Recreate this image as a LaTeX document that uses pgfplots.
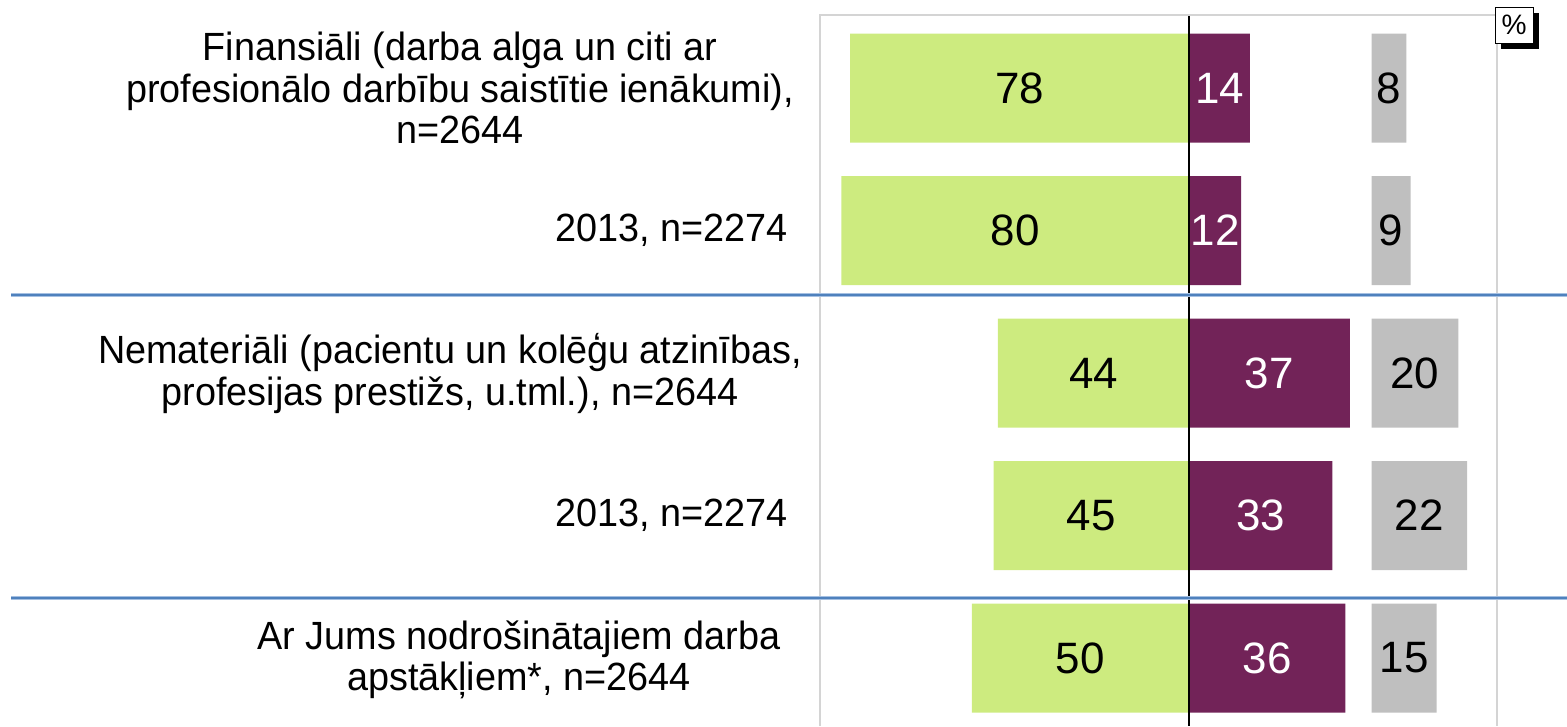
\documentclass[border=0pt]{standalone}
\usepackage{fontspec}
\setmainfont{Liberation Sans}
\newfontfamily\labfamily[FakeStretch=0.96]{Liberation Sans}
\usepackage{pgfplots}
\usepackage{pgfplotstable}
\pgfplotsset{compat=1.18}
\definecolor{cgreen}{RGB}{205,235,127}
\definecolor{cpurple}{RGB}{114,35,88}
\definecolor{cgrey}{RGB}{191,191,191}
\definecolor{cframe}{RGB}{212,212,212}
\definecolor{cblue}{RGB}{79,129,189}
\definecolor{cbluelight}{RGB}{165,192,226}
\newcommand{\labfont}{\labfamily\fontsize{11.2}{11.8}\selectfont}
\newcommand{\numfont}{\fontsize{12.5}{13}\selectfont}

\pgfplotstableread{
row green purple grey off
0 78 14 8 42
1 80 12 9 42
2 44 37 20 42
3 45 33 22 42
4 50 36 15 42
}\data

\begin{document}
\begin{tikzpicture}
\useasboundingbox (0,0) rectangle (156.7mm,72.6mm);
\pgfplotsset{base/.style={scale only axis, width=67.7mm, height=71.1mm,
  at={(82mm,0mm)}, anchor=south west,
  xmin=-84.93, xmax=70.89, ymin=-0.5123, ymax=4.477, y dir=reverse,
  bar width=0.765}}
% grey bars (start at 42) drawn first
\begin{axis}[base, hide axis, xbar stacked]
\addplot[draw=none, fill=none] table[x=off, y=row]{\data};
\addplot[fill=cgrey, draw=none] table[x=grey, y=row]{\data};
\end{axis}
\begin{axis}[base, axis line style={draw=none}, xtick=\empty, ytick=\empty]
\addplot[xbar, bar shift=0pt, fill=cgreen, draw=none] table[x expr=-\thisrow{green}, y=row]{\data};
\addplot[xbar, bar shift=0pt, fill=cpurple, draw=none] table[x=purple, y=row]{\data};
\addplot[draw=none, mark=none, nodes near coords, point meta=explicit symbolic,
  every node near coord/.append style={anchor=center, font=\numfont, text=black}]
  table[x expr=-\thisrow{green}/2, y=row, meta=green]{\data};
\addplot[draw=none, mark=none, nodes near coords, point meta=explicit symbolic,
  every node near coord/.append style={anchor=center, font=\numfont, text=white}]
  table[x expr=\thisrow{purple}/2, y=row, meta=purple]{\data};
\addplot[draw=none, mark=none, nodes near coords, point meta=explicit symbolic,
  every node near coord/.append style={anchor=center, font=\numfont, text=black}]
  table[x expr=\thisrow{off}+\thisrow{grey}/2, y=row, meta=grey]{\data};
\draw[black, line width=0.15mm] (axis cs:0,-0.5123) -- (axis cs:0,4.477);
\draw[black!70, line width=0.15mm] (axis cs:0,-0.5) ++(-1.1mm,0) -- ++(2.2mm,0);
\draw[black, line width=0.12mm] (axis cs:0,1.5) ++(-1.1mm,0) -- ++(2.2mm,0);
\draw[black, line width=0.12mm] (axis cs:0,3.5) ++(-1.1mm,0) -- ++(2.2mm,0);
\end{axis}
% category labels
\node[align=center, font=\labfont, inner sep=0pt] at (46.0mm, 63.8mm)
  {Finansiāli (darba alga un citi ar\\profesionālo darbību saistītie ienākumi),\\n=2644};
\node[anchor=east, font=\labfont, inner sep=0pt] at (78.8mm, 49.55mm) {2013, n=2274};
\node[align=center, font=\labfont, inner sep=0pt] at (45.0mm, 35.25mm)
  {Nemateriāli (pacientu un kolēģu atzinības,\\profesijas prestižs, u.tml.), n=2644};
\node[anchor=east, font=\labfont, inner sep=0pt] at (78.8mm, 21.05mm) {2013, n=2274};
\node[align=center, font=\labfont, inner sep=0pt] at (51.9mm, 6.6mm)
  {Ar Jums nodrošinātajiem darba\\apstākļiem*, n=2644};
\draw[cframe, line width=0.2mm] (82mm,0) -- (82mm,71.1mm) -- (149.7mm,71.1mm) -- (149.7mm,0);
\foreach \yy in {43.1mm,12.8mm}{
  \draw[cbluelight, line width=0.35mm] (1.1mm,\yy) -- (156.7mm,\yy);
  \draw[cblue, line width=0.18mm] (1.1mm,\yy) -- (156.7mm,\yy);
}
\fill[black] (150.1mm,67.7mm) rectangle (153.9mm,71.3mm);
\draw[black, line width=0.1mm, fill=white] (149.5mm,68.3mm) rectangle (153.3mm,71.9mm);
\node at (151.4mm,70.1mm) {\fontsize{8}{9}\selectfont\%};
\end{tikzpicture}
\end{document}
